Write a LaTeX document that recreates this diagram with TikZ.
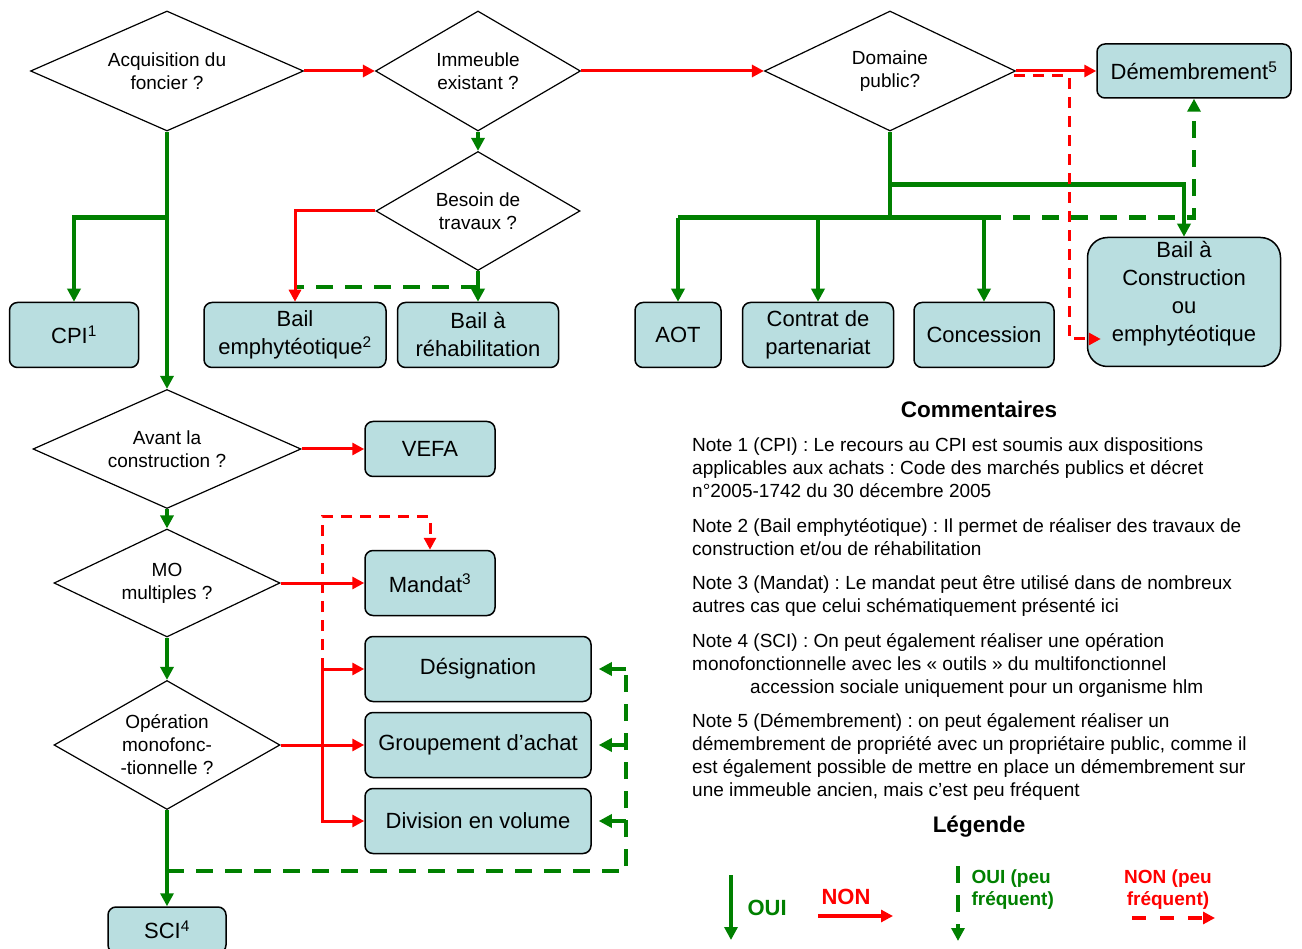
\documentclass[tikz,border=0pt]{standalone}
\usepackage{fontspec}
\setmainfont{Liberation Sans}
\usepackage{tikz}
\usetikzlibrary{calc, shapes.geometric, arrows.meta}
\definecolor{vert}{RGB}{0,128,0}
\definecolor{rouge}{RGB}{255,0,0}
\definecolor{cadre}{RGB}{185,222,224}
\frenchspacing

\begin{document}
\begin{tikzpicture}[x=1pt, y=-1pt,
    question/.style={draw, diamond, aspect=2, inner sep=0pt, align=center, line width=1.2pt, font=\fontsize{19}{23}\selectfont},
    montage/.style={draw, rounded corners=8pt, fill=cadre, line width=1.5pt, align=center, inner sep=0pt, font=\fontsize{22}{28}\selectfont},
    oui/.style={draw=vert, line width=4.5pt},
    ouipeu/.style={oui, dash pattern=on 17pt off 12pt},
    non/.style={draw=rouge, line width=3pt},
    nonpeu/.style={non, dash pattern=on 11pt off 8pt},
    flecheV/.style={-{Triangle[length=13pt, width=13pt]}},
    flecheR/.style={-{Triangle[length=12pt, width=12pt]}},
    note/.style={anchor=north west, align=left, inner sep=0pt, font=\fontsize{19}{23}\selectfont},
    titre/.style={font=\bfseries\fontsize{22.5}{27}\selectfont}]
\useasboundingbox (0,0) rectangle (1302,949);
%\draw[help lines, step=50] (0,0) grid (1302,949);
    \node[question, minimum width=273pt, minimum height=120pt] (foncier) at (167,71) {Acquisition du\\foncier ?};
    \node[question, minimum width=205pt, minimum height=120pt] (existant) at (478,71) {Immeuble\\existant ?};
    \node[question, minimum width=204pt, minimum height=119pt] (travaux) at (478,211) {Besoin de\\travaux ?};
    \node[question, minimum width=251pt, minimum height=120pt] (domaine) at (890,71) {Domaine\\public?};
    \node[question, minimum width=268pt, minimum height=119pt] (avant) at (167,449) {Avant la\\construction ?};
    \node[question, minimum width=226pt, minimum height=108pt] (mo) at (167,583) {MO\\multiples ?};
    \node[question, minimum width=226pt, minimum height=129pt] (monofonc) at (167,745) {Opération\\monofonc-\\-tionnelle ?};

    \node[montage, minimum width=129pt, minimum height=65pt] (cpi) at (74,335) {CPI\textsuperscript{1}};
    \node[montage, minimum width=182pt, minimum height=65pt] (bemph) at (295,335) {Bail\\emphytéotique\textsuperscript{2}};
    \node[montage, minimum width=161pt, minimum height=65pt] (brehab) at (478,335) {Bail à\\réhabilitation};
    \node[montage, minimum width=86pt, minimum height=65pt] (aot) at (678,335) {AOT};
    \node[montage, minimum width=151pt, minimum height=65pt] (contrat) at (818,335) {Contrat de\\partenariat};
    \node[montage, minimum width=140pt, minimum height=65pt] (concession) at (984,335) {Concession};
    \node[montage, rounded corners=20pt, minimum width=193pt, minimum height=129pt, text depth=22pt] (bcons) at (1184,302) {Bail à\\Construction\\ou\\emphytéotique};
    \node[montage, minimum width=194pt, minimum height=54pt] (demembr) at (1194,71) {Démembrement\textsuperscript{5}};
    \node[montage, minimum width=130pt, minimum height=55pt] (vefa) at (430,449) {VEFA};
    \node[montage, minimum width=130pt, minimum height=65pt] (mandat) at (430,583) {Mandat\textsuperscript{3}};
    \node[montage, minimum width=226pt, minimum height=65pt] (designation) at (478,669) {Désignation};
    \node[montage, minimum width=226pt, minimum height=65pt] (groupement) at (478,745) {Groupement d’achat};
    \node[montage, minimum width=226pt, minimum height=65pt] (division) at (478,821) {Division en volume};
    \node[montage, minimum width=118pt, minimum height=46pt] (sci) at (167,930) {SCI\textsuperscript{4}};

    % OUI
    \draw[oui, flecheV] (foncier.south) -- (avant.north);
    \draw[oui, flecheV] ($(foncier.south)+(0,86)$) -| (cpi.north);
    \draw[oui, flecheV] (existant.south) -- (travaux.north);
    \draw[oui, flecheV] (travaux.south) -- (brehab.north);
    \draw[oui] (domaine.south) -- ++(0,86) coordinate (jd);
    \draw[oui] (jd -| aot.north) -- (jd -| concession.north);
    \foreach \b in {aot, contrat, concession}
        \draw[oui, flecheV] (jd -| \b.north) -- (\b.north);
    \draw[oui, flecheV] ($(domaine.south)+(0,53)$) -| (bcons.north);
    \draw[oui, flecheV] (avant.south) -- (mo.north);
    \draw[oui, flecheV] (mo.south) -- (monofonc.north);
    \draw[oui, flecheV] (monofonc.south) -- (sci.north);

    % OUI (peu frequent)
    \coordinate (dj) at (478,287);
    \draw[ouipeu] (dj) -- (bemph.north |- dj);
    \draw[ouipeu, flecheV] (jd -| concession.north) -| (demembr.south);
    \coordinate (rg) at (626,871);
    \draw[ouipeu] (monofonc.south |- rg) -- (rg) -- (rg |- designation.east);
    \foreach \b in {designation, groupement, division}
        \draw[ouipeu, flecheV] (rg |- \b.east) -- ($(\b.east)+(7,0)$);

    % NON
    \draw[non, flecheR] (foncier.east) -- (existant.west);
    \draw[non, flecheR] (existant.east) -- (domaine.west);
    \draw[non, flecheR] (domaine.east) -- (demembr.west);
    \draw[non, flecheR] (travaux.west) -| (bemph.north);
    \draw[non, flecheR] (avant.east) -- (vefa.west);
    \draw[non, flecheR] (mo.east) -- (mandat.west);
    \draw[non, flecheR] (monofonc.east) -- (groupement.west);
    \coordinate (tr) at (322,745);
    \draw[non, flecheR] (tr) |- (designation.west);
    \draw[non, flecheR] (tr) |- (division.west);

    % NON (peu frequent)
    \coordinate (mh) at (322,517);
    \draw[nonpeu, flecheR] (tr |- designation.west) -- (mh) -| (mandat.north);
    \coordinate (rd) at (1069,339);
    \draw[nonpeu, flecheR] ($(domaine.east)+(-2,5)$) -| (rd) -- ($(rd -| bcons.west)+(14,0)$);

    % commentaires
    \node[titre] (commentaires) at (979,409) {Commentaires};
    \node[note] (note1) at (692,438) {Note 1 (CPI) : Le recours au CPI est soumis aux dispositions\\applicables aux achats : Code des marchés publics et décret\\n°2005-1742 du 30 décembre 2005};
    \node[note] (note2) at (692,518) {Note 2 (Bail emphytéotique) : Il permet de réaliser des travaux de\\construction et/ou de réhabilitation};
    \node[note] (note3) at (692,575) {Note 3 (Mandat) : Le mandat peut être utilisé dans de nombreux\\autres cas que celui schématiquement présenté ici};
    \node[note] (note4) at (692,633) {Note 4 (SCI) : On peut également réaliser une opération\\monofonctionnelle avec les « outils » du multifonctionnel\\\hspace*{58pt}accession sociale uniquement pour un organisme hlm};
    \node[note] (note5) at (692,713) {Note 5 (Démembrement) : on peut également réaliser un\\démembrement de propriété avec un propriétaire public, comme il\\est également possible de mettre en place un démembrement sur\\une immeuble ancien, mais c’est peu fréquent};

    % legende
    \node[titre] (legende) at (979,827) {Légende};
    \coordinate (lo1) at (731,875);
    \coordinate (lo2) at (731,940);
    \draw[oui, line width=3.5pt, flecheV] (lo1) -- (lo2);
    \node[anchor=west, text=vert, font=\bfseries\fontsize{22}{26}\selectfont] (loui) at (744,908) {OUI};
    \coordinate (ln1) at (818,916);
    \coordinate (ln2) at (893,916);
    \draw[non, line width=3.5pt, flecheR] (ln1) -- (ln2);
    \node[text=rouge, font=\bfseries\fontsize{22}{26}\selectfont] (lnon) at (846,897) {NON};
    \coordinate (lp1) at (958,866);
    \coordinate (lp2) at (958,941);
    \draw[ouipeu, line width=3.5pt, flecheV] (lp1) -- (lp2);
    \node[anchor=west, align=left, text=vert, font=\bfseries\fontsize{19}{22}\selectfont] (loupeu) at (968,890) {OUI (peu\\fréquent)};
    \coordinate (lq1) at (1132,918);
    \coordinate (lq2) at (1215,918);
    \draw[nonpeu, line width=3.5pt, dash pattern=on 14pt off 14pt, flecheR] (lq1) -- (lq2);
    \node[align=center, text=rouge, font=\bfseries\fontsize{19}{22}\selectfont] (lnonpeu) at (1168,890) {NON (peu\\fréquent)};
\end{tikzpicture}
\end{document}
